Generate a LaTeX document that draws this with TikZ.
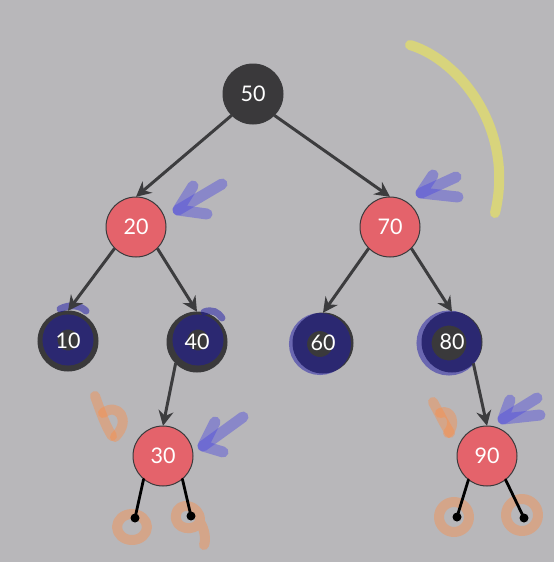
\documentclass[tikz,border=0pt]{standalone}
\usepackage{fontspec}
\setmainfont{Lato}
\usetikzlibrary{arrows.meta}
\pgfdeclarelayer{bg}
\pgfdeclarelayer{paint}
\pgfsetlayers{bg,paint,main}
\definecolor{bgc}{HTML}{B8B7BA}
\definecolor{darkn}{HTML}{3A393B}
\definecolor{redn}{HTML}{E4636B}
\definecolor{borderc}{HTML}{3A3A3C}
\definecolor{edgec}{HTML}{3C3C3E}
\definecolor{navy}{HTML}{1E18A8}
\definecolor{bluepen}{HTML}{4A46E0}
\definecolor{orangepen}{HTML}{FF8A40}
\definecolor{yellowpen}{HTML}{D8D47C}
\begin{document}
\begin{tikzpicture}[x=1pt,y=-1pt,
  tnode/.style={circle, minimum size=60pt, inner sep=0pt, text=white, font=\fontsize{21.5}{21.5}\selectfont},
  edge/.style={draw=edgec, line width=3pt, -{Stealth[length=15pt,width=15pt,inset=5pt]}},
  leafline/.style={draw=black, line width=2.8pt, line cap=round},
  leafdot/.style={fill=black},
  darkfill/.style={fill=darkn, draw=borderc, line width=1pt},
  redfill/.style={fill=redn, draw=borderc, line width=1pt},
  navymark/.style={draw=navy, opacity=0.5, line cap=round},
  bluemark/.style={draw=bluepen, line width=11pt, line cap=round, line join=round, opacity=0.42},
  orangemark/.style={draw=orangepen, line width=10pt, line cap=round, line join=round, opacity=0.4},
  yellowmark/.style={draw=yellowpen, line width=10pt, line cap=round}
]
\useasboundingbox (0,0) rectangle (554,562);
\begin{pgfonlayer}{bg}
\fill[bgc] (0,0) rectangle (554,562);
\end{pgfonlayer}

% nodes
\node[tnode] (n50) at (253,94) {50};
\node[tnode] (n20) at (136,227) {20};
\node[tnode] (n70) at (390,227) {70};
\node[tnode] (n10) at (68,341) {10};
\node[tnode] (n40) at (197,342) {40};
\node[tnode] (n60) at (323,343) {60};
\node[tnode] (n80) at (452,342) {80};
\node[tnode] (n30) at (163,456) {30};
\node[tnode] (n90) at (487,456) {90};

\begin{pgfonlayer}{bg}
\path[darkfill] (n50.center) circle[radius=30pt];
\path[redfill] (n20.center) circle[radius=30pt];
\path[redfill] (n70.center) circle[radius=30pt];
\path[darkfill] (n10.center) circle[radius=30pt];
\path[darkfill] (n40.center) circle[radius=30pt];
\path[darkfill] (n60.center) circle[radius=30pt];
\path[darkfill] (n80.center) circle[radius=30pt];
\path[redfill] (n30.center) circle[radius=30pt];
\path[redfill] (n90.center) circle[radius=30pt];
\end{pgfonlayer}

% edges
\draw[edge] (n50.south west) -- (n20.north);
\draw[edge] (n50.south east) -- (n70.north);
\draw[edge] (n20.south west) -- (n10.north);
\draw[edge] (n20.south east) -- (n40.north);
\draw[edge] (n70.south west) -- (n60.north);
\draw[edge] (n70.south east) -- (n80.north);
\draw[edge] (n40.south west) -- (n30.north);
\draw[edge] (n80.south east) -- (n90.north);

% nil leaves
\coordinate (l30a) at (135,518);
\coordinate (l30b) at (191,516);
\coordinate (l90a) at (457,517);
\coordinate (l90b) at (524,518);
\draw[leafline] (n30.230) -- (l30a);
\draw[leafline] (n30.310) -- (l30b);
\draw[leafline] (n90.232) -- (l90a);
\draw[leafline] (n90.308) -- (l90b);
\fill[leafdot] (l30a) circle[radius=4.5pt];
\fill[leafdot] (l30b) circle[radius=4.5pt];
\fill[leafdot] (l90a) circle[radius=4.5pt];
\fill[leafdot] (l90b) circle[radius=4.5pt];

% hand-drawn marks
\begin{pgfonlayer}{paint}
% navy paint on black nodes
\draw[navymark, line width=15pt] (68,340) circle[radius=18pt];
\draw[navymark, line width=7pt] (60,309) .. controls (70,304) and (80,305) .. (86,311);
\draw[navymark, line width=15pt] (198,340) circle[radius=18pt];
\draw[navymark, line width=7pt] (204,312) .. controls (212,309) and (218,312) .. (222,318);
\draw[navymark, line width=18pt] (320,344) circle[radius=22pt];
\draw[navymark, line width=15pt] (449,343) circle[radius=25pt];
% blue arrows
\draw[bluemark] (222,184) -- (178,210);
\draw[bluemark] (193,186) -- (178,210) -- (207,214);
\draw[bluemark] (456,177) -- (421,193);
\draw[bluemark] (433,175) -- (421,193) -- (458,197);
\draw[bluemark] (243,417) -- (203,446);
\draw[bluemark] (215,422) -- (203,446) -- (223,452);
\draw[bluemark] (537,398) -- (503,419);
\draw[bluemark] (510,400) -- (503,419) -- (540,415);
% orange marks
\draw[orangemark] (95,396) .. controls (100,410) and (105,425) .. (112,436);
\draw[orangemark] (103,413) .. controls (118,402) and (132,420) .. (115,437);
\draw[orangemark] (433,402) .. controls (440,415) and (445,425) .. (450,433);
\draw[orangemark] (440,413) .. controls (452,408) and (456,425) .. (448,433);
\draw[orangemark] (132,527) ellipse[x radius=15pt, y radius=13pt];
\draw[orangemark] (200,520) .. controls (200,505) and (178,500) .. (176,515)
  .. controls (174,530) and (195,532) .. (200,522)
  .. controls (205,530) and (206,540) .. (204,545);
\draw[orangemark] (454,517) circle[radius=15pt];
\draw[orangemark] (522,515) circle[radius=16pt];
% yellow arc
\draw[yellowmark] (410,45) .. controls (460,60) and (515,130) .. (495,213);
\end{pgfonlayer}
\end{tikzpicture}
\end{document}
